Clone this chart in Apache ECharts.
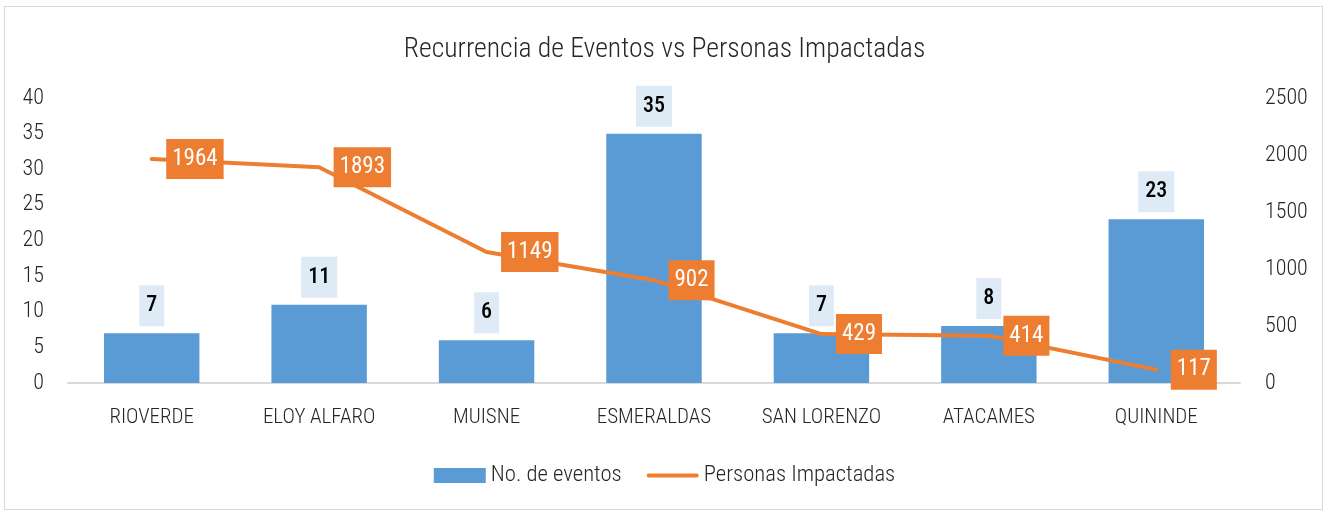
<!DOCTYPE html>
<html>
<head>
<meta charset="utf-8">
<script src="https://cdn.jsdelivr.net/npm/echarts@6/dist/echarts.min.js"></script>
<style>
html,body{margin:0;padding:0;background:#fff;}
#frame{position:absolute;left:4px;top:6px;width:1319px;height:504px;border:1px solid #d9d9d9;box-sizing:border-box;}
#chart{position:absolute;left:0;top:0;width:1329px;height:512px;}
</style>
</head>
<body>
<div id="frame"></div>
<div id="chart"></div>
<script>
const categories = ['RIOVERDE','ELOY ALFARO','MUISNE','ESMERALDAS','SAN LORENZO','ATACAMES','QUININDE'];
const eventos = [7, 11, 6, 35, 7, 8, 23];
const personas = [1964, 1893, 1149, 902, 429, 414, 117];
const leftTicks = {min: 0, max: 40, interval: 5};
const rightTicks = {min: 0, max: 2500, interval: 500};

const FONT = '"Roboto Condensed", "Open Sans", sans-serif';
const chart = echarts.init(document.getElementById('chart'));
chart.setOption({
  animation: false,
  textStyle: {fontFamily: FONT},
  title: {
    text: 'Recurrencia de Eventos vs Personas Impactadas',
    left: 'center', top: 31,
    textStyle: {fontFamily: FONT, fontSize: 27.7, fontWeight: 300, color: '#262626'}
  },
  legend: {
    bottom: 20, left: 'center',
    itemWidth: 52, itemHeight: 15, itemGap: 25,
    textStyle: {fontFamily: FONT, fontSize: 22.7, fontWeight: 300, color: '#262626'},
    data: [
      {name: 'No. de eventos', icon: 'rect'},
      {name: 'Personas Impactadas', icon: 'path://M0,0 M2,5.5 L52,5.5 A2,2 0 0 1 52,9.5 L2,9.5 A2,2 0 0 1 2,5.5 Z M54,15'}
    ]
  },
  grid: {left: 68, right: 89, top: 98, bottom: 129, containLabel: false},
  xAxis: {
    type: 'category', data: categories,
    axisLine: {lineStyle: {color: '#d9d9d9', width: 2}},
    axisTick: {show: false},
    axisLabel: {interval: 0, fontFamily: FONT, fontSize: 21, fontWeight: 300, color: '#262626', margin: 24}
  },
  yAxis: [
    {type: 'value', min: leftTicks.min, max: leftTicks.max, interval: leftTicks.interval,
     splitLine: {show: false}, axisLine: {show: false}, axisTick: {show: false},
     axisLabel: {fontFamily: FONT, fontSize: 22, fontWeight: 300, color: '#262626', margin: 24}},
    {type: 'value', min: rightTicks.min, max: rightTicks.max, interval: rightTicks.interval,
     splitLine: {show: false}, axisLine: {show: false}, axisTick: {show: false},
     axisLabel: {fontFamily: FONT, fontSize: 22, fontWeight: 300, color: '#262626', margin: 25,
       formatter: v => String(v)}}
  ],
  series: [
    {
      name: 'No. de eventos', type: 'bar', data: eventos, yAxisIndex: 0,
      barWidth: '57%',
      itemStyle: {color: '#5B9BD5'},
      label: {show: true, position: 'top', distance: 7,
        backgroundColor: '#DEEBF7', padding: [10, 7], color: '#000',
        fontFamily: FONT, fontSize: 22, fontWeight: 500, lineHeight: 21}
    },
    {
      name: 'Personas Impactadas', type: 'line', data: personas, yAxisIndex: 1,
      symbol: 'circle', symbolSize: 1, showSymbol: true, z: 5,
      lineStyle: {color: '#ED7D31', width: 4, cap: 'round'},
      itemStyle: {color: '#ED7D31'},
      label: {show: true, position: 'right', distance: 14,
        backgroundColor: '#ED7D31', padding: [8, 6], color: '#fff',
        fontFamily: FONT, fontSize: 23, fontWeight: 400, lineHeight: 24}
    }
  ]
});
</script>
</body>
</html>
